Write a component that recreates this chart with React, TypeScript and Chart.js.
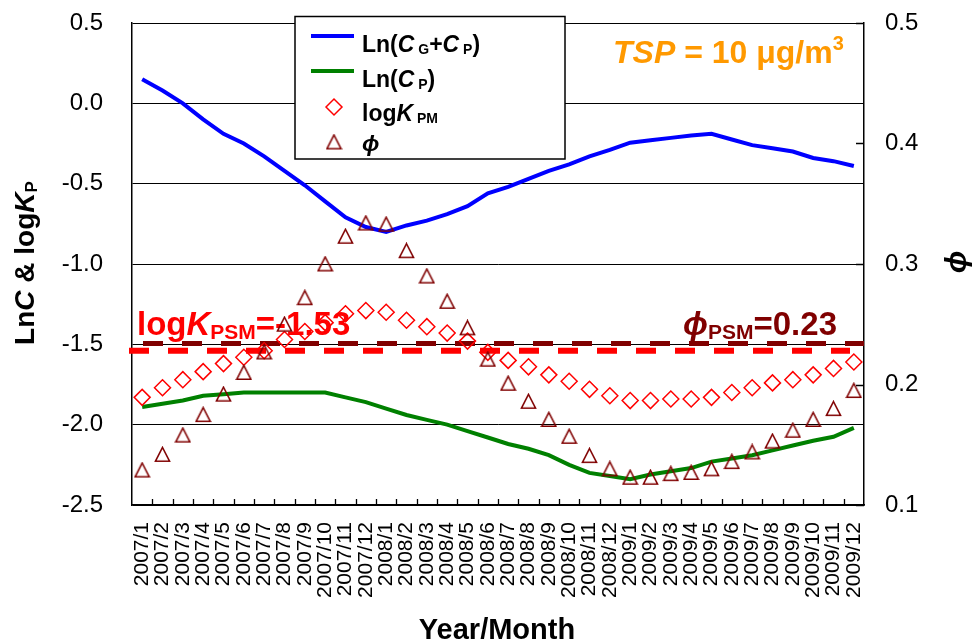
import React, { useEffect, useRef } from "react";
import { Chart, registerables } from "chart.js";

Chart.register(...registerables);

const months = [
  "2007/1", "2007/2", "2007/3", "2007/4", "2007/5", "2007/6", "2007/7", "2007/8", "2007/9", "2007/10", "2007/11", "2007/12",
  "2008/1", "2008/2", "2008/3", "2008/4", "2008/5", "2008/6", "2008/7", "2008/8", "2008/9", "2008/10", "2008/11", "2008/12",
  "2009/1", "2009/2", "2009/3", "2009/4", "2009/5", "2009/6", "2009/7", "2009/8", "2009/9", "2009/10", "2009/11", "2009/12",
];

// Ln(CG+CP) – left axis
const lnCgCp = [
  0.15, 0.08, 0.0, -0.1, -0.19, -0.25, -0.33, -0.42, -0.51, -0.61, -0.71, -0.77,
  -0.8, -0.76, -0.73, -0.69, -0.64, -0.56, -0.52, -0.47, -0.42, -0.38, -0.33, -0.29,
  -0.245, -0.23, -0.215, -0.2, -0.19, -0.225, -0.26, -0.28, -0.3, -0.34, -0.36, -0.39,
];

// Ln(CP) – left axis
const lnCp = [
  -1.89, -1.87, -1.85, -1.82, -1.81, -1.8, -1.8, -1.8, -1.8, -1.8, -1.83, -1.86,
  -1.9, -1.94, -1.97, -2.0, -2.04, -2.08, -2.12, -2.15, -2.19, -2.25, -2.3, -2.32,
  -2.34, -2.31, -2.29, -2.27, -2.23, -2.21, -2.19, -2.16, -2.13, -2.1, -2.075, -2.02,
];

// logKPM – left axis
const logKpm = [
  -1.83, -1.77, -1.72, -1.67, -1.62, -1.58, -1.54, -1.47, -1.42, -1.365, -1.31, -1.29,
  -1.3, -1.35, -1.39, -1.43, -1.48, -1.55, -1.6, -1.64, -1.69, -1.73, -1.78, -1.82,
  -1.85, -1.85, -1.84, -1.84, -1.83, -1.8, -1.77, -1.74, -1.72, -1.69, -1.65, -1.61,
];

// phi – right axis
const phi = [
  0.129, 0.142, 0.158, 0.175, 0.192, 0.21, 0.227, 0.25, 0.272, 0.3, 0.323, 0.334,
  0.333, 0.311, 0.29, 0.269, 0.247, 0.221, 0.201, 0.186, 0.171, 0.157, 0.141, 0.13,
  0.123, 0.123, 0.126, 0.127, 0.13, 0.136, 0.144, 0.153, 0.162, 0.171, 0.18, 0.195,
];

const leftAxis = { min: -2.5, max: 0.5, step: 0.5 };
const rightAxis = { min: 0.1, max: 0.5, step: 0.1 };

// PSM reference lines (position) and their labels
const psmLogK = -1.54;
const psmLogKLabel = "-1.53";
const psmPhi = 0.234;
const psmPhiLabel = "0.23";
const tspLabel = "10";

const PHI = "\u03D5";
const FONT = '"Liberation Sans", Arial, Helvetica, "DejaVu Sans", sans-serif';
const f = (size: number, bold = true, italic = false) =>
  `${italic ? "italic " : ""}${bold ? "bold " : ""}${size}px ${FONT}`;

type Seg = { t: string; font: string; dy?: number };

function richWidth(ctx: CanvasRenderingContext2D, segs: Seg[]) {
  let w = 0;
  for (const s of segs) {
    ctx.font = s.font;
    w += ctx.measureText(s.t).width;
  }
  return w;
}

function drawRich(
  ctx: CanvasRenderingContext2D,
  segs: Seg[],
  x: number,
  y: number,
  color: string,
  align: "left" | "center" = "left"
) {
  ctx.save();
  ctx.fillStyle = color;
  ctx.textAlign = "left";
  ctx.textBaseline = "alphabetic";
  let cx = x;
  if (align === "center") cx = x - richWidth(ctx, segs) / 2;
  for (const s of segs) {
    ctx.font = s.font;
    ctx.fillText(s.t, cx, y + (s.dy || 0));
    cx += ctx.measureText(s.t).width;
  }
  ctx.restore();
}

function makeTriangle() {
  const c = document.createElement("canvas");
  c.width = 17;
  c.height = 17;
  const g = c.getContext("2d")!;
  g.strokeStyle = "#800000";
  g.lineWidth = 1.6;
  g.beginPath();
  g.moveTo(8.5, 1.5);
  g.lineTo(15.5, 15.2);
  g.lineTo(1.5, 15.2);
  g.closePath();
  g.stroke();
  return c;
}

export default function App() {
  const ref = useRef<HTMLCanvasElement | null>(null);

  useEffect(() => {
    const canvas = ref.current;
    if (!canvas) return;
    const tri = makeTriangle();

    const overlay = {
      id: "overlay",
      beforeDatasetsDraw(chart: any) {
        const ctx: CanvasRenderingContext2D = chart.ctx;
        const ca = chart.chartArea;
        const yL = chart.scales.y;
        const yR = chart.scales.y1;
        ctx.save();
        // phi PSM line (dark red)
        const yp = yR.getPixelForValue(psmPhi);
        ctx.strokeStyle = "#800000";
        ctx.lineWidth = 5;
        ctx.setLineDash([20, 19]);
        ctx.beginPath();
        ctx.moveTo(ca.left + 11, yp);
        ctx.lineTo(ca.right, yp);
        ctx.stroke();
        // logK PSM line (red)
        const yk = yL.getPixelForValue(psmLogK);
        ctx.strokeStyle = "#FF0000";
        ctx.lineWidth = 6;
        ctx.beginPath();
        ctx.moveTo(ca.left - 3, yk);
        ctx.lineTo(ca.right - 14, yk);
        ctx.stroke();
        ctx.restore();

        drawRich(
          ctx,
          [
            { t: "log", font: f(33) },
            { t: "K", font: f(33, true, true) },
            { t: "PSM", font: f(21), dy: 4 },
            { t: "=" + psmLogKLabel, font: f(33) },
          ],
          ca.left + 5,
          yk - 16,
          "#FF0000"
        );
        drawRich(
          ctx,
          [
            { t: PHI, font: f(33, true, true) },
            { t: "PSM", font: f(21), dy: 4 },
            { t: "=" + psmPhiLabel, font: f(33) },
          ],
          ca.right - 181,
          yk - 16,
          "#800000"
        );
      },
      afterDraw(chart: any) {
        const ctx: CanvasRenderingContext2D = chart.ctx;
        const ca = chart.chartArea;
        const yR = chart.scales.y1;
        ctx.save();
        // inward tick marks on x axis (category boundaries)
        ctx.strokeStyle = "#000";
        ctx.lineWidth = 1.3;
        const n = months.length;
        const cw = (ca.right - ca.left) / n;
        ctx.beginPath();
        for (let i = 1; i < n; i++) {
          const x = Math.round(ca.left + i * cw) + 0.5;
          ctx.moveTo(x, ca.bottom);
          ctx.lineTo(x, ca.bottom - 6);
        }
        // inward ticks on right axis
        for (let v = rightAxis.min; v <= rightAxis.max + 1e-9; v += rightAxis.step) {
          const y = Math.round(yR.getPixelForValue(v)) + 0.5;
          ctx.moveTo(ca.right, y);
          ctx.lineTo(ca.right - 8, y);
        }
        ctx.stroke();

        // legend box
        const bx = 295, by = 16.5, bw = 270, bh = 142.5;
        ctx.fillStyle = "#fff";
        ctx.fillRect(bx, by, bw, bh);
        ctx.strokeStyle = "#000";
        ctx.lineWidth = 1.5;
        ctx.strokeRect(bx, by, bw, bh);

        ctx.lineWidth = 4;
        ctx.strokeStyle = "#0000FF";
        ctx.beginPath();
        ctx.moveTo(311, 36);
        ctx.lineTo(354, 36);
        ctx.stroke();
        ctx.strokeStyle = "#008000";
        ctx.beginPath();
        ctx.moveTo(311, 71);
        ctx.lineTo(354, 71);
        ctx.stroke();

        // diamond
        ctx.strokeStyle = "#FF0000";
        ctx.lineWidth = 1.5;
        ctx.beginPath();
        ctx.moveTo(334 - 8, 107);
        ctx.lineTo(334, 99);
        ctx.lineTo(334 + 8, 107);
        ctx.lineTo(334, 115);
        ctx.closePath();
        ctx.stroke();
        // triangle
        ctx.drawImage(tri, 334 - 8.5, 142 - 8.5);
        ctx.restore();

        drawRich(
          ctx,
          [
            { t: "Ln(", font: f(23) },
            { t: "C", font: f(23, true, true) },
            { t: " G", font: f(14), dy: 2 },
            { t: "+", font: f(23) },
            { t: "C", font: f(23, true, true) },
            { t: " P", font: f(14), dy: 2 },
            { t: ")", font: f(23) },
          ],
          362,
          52,
          "#000"
        );
        drawRich(
          ctx,
          [
            { t: "Ln(", font: f(23) },
            { t: "C", font: f(23, true, true) },
            { t: " P", font: f(14), dy: 2 },
            { t: ")", font: f(23) },
          ],
          362,
          87,
          "#000"
        );
        drawRich(
          ctx,
          [
            { t: "log", font: f(23) },
            { t: "K", font: f(23, true, true) },
            { t: " PM", font: f(14), dy: 2 },
          ],
          362,
          121,
          "#000"
        );
        drawRich(ctx, [{ t: PHI, font: f(23, true, true) }], 362, 151, "#000");

        // TSP annotation
        drawRich(
          ctx,
          [
            { t: "TSP", font: f(32, true, true) },
            { t: " = " + tspLabel + " \u03BCg/m", font: f(32) },
            { t: "3", font: f(20), dy: -13 },
          ],
          613,
          63,
          "#FF9900"
        );

        // axis titles
        ctx.save();
        ctx.translate(34, 263);
        ctx.rotate(-Math.PI / 2);
        drawRich(
          ctx,
          [
            { t: "Ln", font: f(28) },
            { t: "C", font: f(28, true, true) },
            { t: " & log", font: f(28) },
            { t: "K", font: f(28, true, true) },
            { t: "P", font: f(17), dy: 3 },
          ],
          0,
          0,
          "#000",
          "center"
        );
        ctx.restore();

        ctx.save();
        ctx.translate(966, 262);
        ctx.rotate(-Math.PI / 2);
        drawRich(ctx, [{ t: PHI, font: f(30, true, true) }], 0, 0, "#000", "center");
        ctx.restore();

        drawRich(ctx, [{ t: "Year/Month", font: f(29) }], 497, 639, "#000", "center");
      },
    };

    const noPad = (s: any) => {
      s.paddingTop = 0;
      s.paddingBottom = 0;
      s.paddingLeft = 0;
      s.paddingRight = 0;
    };

    const chart = new Chart(canvas, {
      type: "line",
      data: {
        labels: months,
        datasets: [
          {
            label: "phi",
            data: phi,
            yAxisID: "y1",
            showLine: false,
            pointStyle: tri as any,
            pointRadius: 8,
            borderColor: "#800000",
            backgroundColor: "rgba(0,0,0,0)",
          },
          {
            label: "logKPM",
            data: logKpm,
            yAxisID: "y",
            showLine: false,
            pointStyle: "rectRot",
            pointRadius: 8,
            pointBorderWidth: 1.5,
            borderColor: "#FF0000",
            backgroundColor: "rgba(0,0,0,0)",
          },
          {
            label: "Ln(CG+CP)",
            data: lnCgCp,
            yAxisID: "y",
            borderColor: "#0000FF",
            borderWidth: 4,
            pointRadius: 0,
            tension: 0,
            fill: false,
          },
          {
            label: "Ln(CP)",
            data: lnCp,
            yAxisID: "y",
            borderColor: "#008000",
            borderWidth: 4,
            pointRadius: 0,
            tension: 0,
            fill: false,
          },
        ],
      },
      options: {
        responsive: false,
        animation: false,
        devicePixelRatio: 1,
        layout: { autoPadding: false, padding: { top: 23, left: 0, right: 0, bottom: 0 } },
        plugins: { legend: { display: false }, tooltip: { enabled: false }, title: { display: false } },
        scales: {
          x: {
            type: "category",
            offset: true,
            grid: { display: false, drawTicks: false },
            border: { display: true, color: "#000", width: 1.5 },
            ticks: {
              autoSkip: false,
              maxRotation: 90,
              minRotation: 90,
              padding: 17,
              color: "#000",
              font: { family: FONT, size: 21 },
            },
            afterFit: (s: any) => {
              s.height = 137;
              noPad(s);
            },
          },
          y: {
            position: "left",
            min: leftAxis.min,
            max: leftAxis.max,
            grid: { color: "#000", lineWidth: 1, drawTicks: false },
            border: { display: true, color: "#000", width: 1.5 },
            ticks: {
              stepSize: leftAxis.step,
              padding: 29,
              color: "#000",
              font: { family: FONT, size: 24 },
              callback: (v: any) => Number(v).toFixed(1),
            },
            afterFit: (s: any) => {
              s.width = 132;
              noPad(s);
            },
          },
          y1: {
            position: "right",
            min: rightAxis.min,
            max: rightAxis.max,
            grid: { display: false, drawTicks: false },
            border: { display: true, color: "#000", width: 1.5 },
            ticks: {
              stepSize: rightAxis.step,
              padding: 21,
              color: "#000",
              font: { family: FONT, size: 24 },
              callback: (v: any) => Number(v).toFixed(1),
            },
            afterFit: (s: any) => {
              s.width = 116;
              noPad(s);
            },
          },
        },
      },
      plugins: [overlay],
    } as any);

    return () => chart.destroy();
  }, []);

  return (
    <div style={{ position: "fixed", left: 0, top: 0, width: 980, height: 642, background: "#fff" }}>
      <canvas ref={ref} width={980} height={642} style={{ display: "block" }} />
    </div>
  );
}
